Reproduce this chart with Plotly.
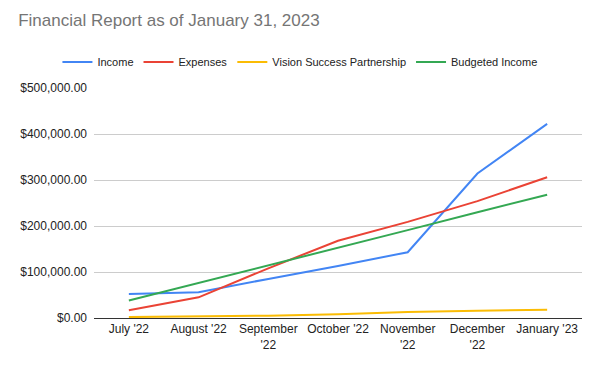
import plotly.graph_objects as go

months = ["July '22", "August '22", "September<br>'22", "October '22", "November<br>'22", "December<br>'22", "January '23"]
income = [52000, 56000, 85000, 113000, 143000, 314000, 422000]
expenses = [17000, 45000, 108000, 168000, 209000, 254000, 306000]
vision = [2000, 3000, 5000, 8000, 13000, 16000, 18000]
budgeted = [38000, 76000, 114000, 153000, 191000, 230000, 268000]

series = [
    ("Income", income, "#4285F4"),
    ("Expenses", expenses, "#EA4335"),
    ("Vision Success Partnership", vision, "#FBBC04"),
    ("Budgeted Income", budgeted, "#34A853"),
]

fig = go.Figure()
for name, vals, col in series:
    fig.add_trace(go.Scatter(x=months, y=vals, name=name, mode="lines",
                             line=dict(color=col, width=2)))

fig.update_layout(
    width=600, height=371,
    paper_bgcolor="white", plot_bgcolor="white",
    font=dict(family="Arial, Liberation Sans, sans-serif", size=11, color="#222222"),
    title=dict(text="Financial Report as of January 31, 2023", x=0.017, xanchor="left",
               y=0.968, yanchor="middle",
               font=dict(size=17, color="#757575")),
    legend=dict(orientation="h", x=0.422, xanchor="center", y=1.113, yanchor="middle",
                font=dict(size=11, color="#222222"), itemwidth=30),
    margin=dict(l=86, r=26, t=80, b=61),
    xaxis=dict(range=[-0.5, 6.5], showgrid=False, ticks="", showline=True,
               linecolor="#333333", linewidth=1, tickfont=dict(size=12)),
    yaxis=dict(range=[0, 500000], dtick=100000, tickformat="$,.2f",
               gridcolor="#cccccc", zeroline=False, ticks="",
               ticklabelstandoff=6, tickfont=dict(size=12)),
)

fig.write_html("out.html")
